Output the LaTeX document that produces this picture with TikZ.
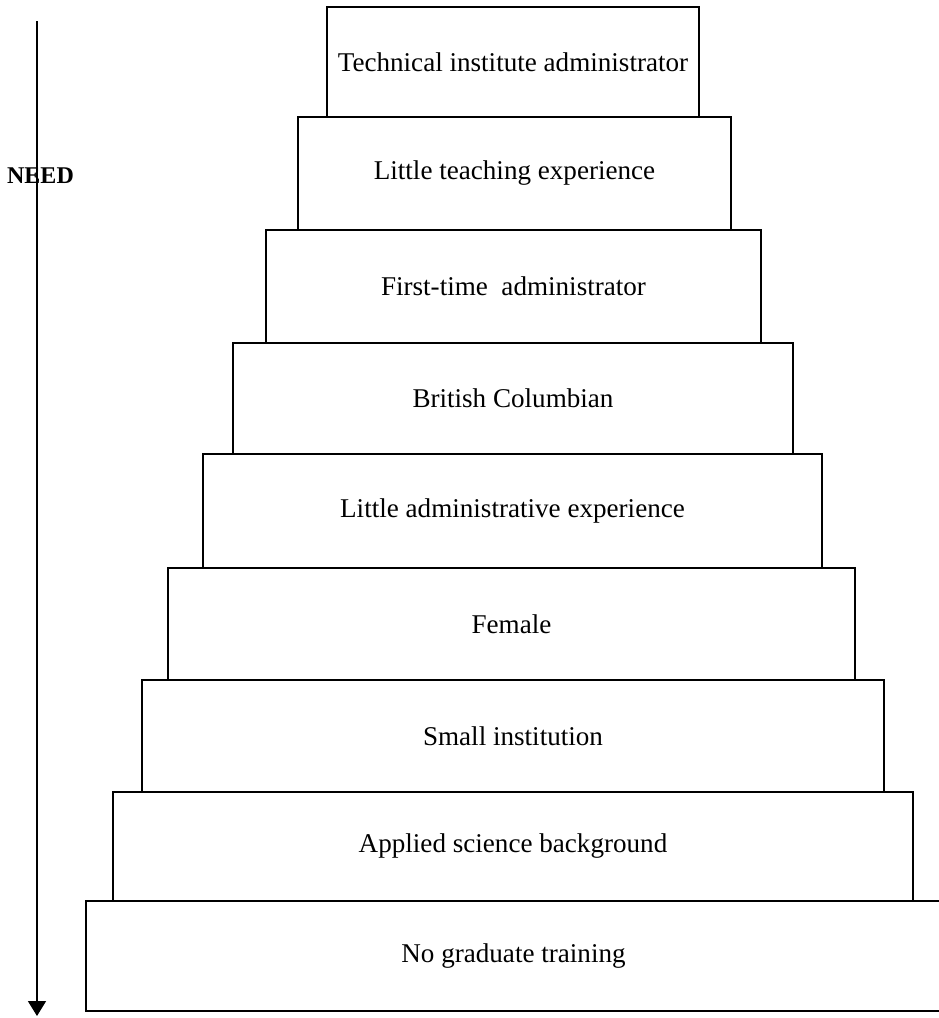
\documentclass[tikz,border=0pt]{standalone}
\usepackage{fontspec}
\setmainfont{Liberation Serif}
\usetikzlibrary{arrows.meta}
\begin{document}
\begin{tikzpicture}[x=1pt,y=-1pt,
  stepbox/.style={draw, line width=1.8pt, inner sep=0pt, outer sep=0pt,
    font=\fontsize{27.1}{32}\selectfont},
  needlabel/.style={inner sep=0pt, font=\fontsize{24}{28}\selectfont\bfseries},
  needarrow/.style={line width=1.6pt, -{Triangle[width=18pt,length=15pt]}}]
\useasboundingbox (0,0) rectangle (939,1018);
\node[stepbox, minimum width=372, minimum height=110] (b1) at (513,62) {Technical institute administrator};
\node[stepbox, minimum width=433, minimum height=113] (b2) at (514.5,173.5) {Little teaching experience};
\node[stepbox, minimum width=495, minimum height=113] (b3) at (513.5,286.5) {First-time\ \ administrator};
\node[stepbox, minimum width=560, minimum height=111] (b4) at (513,398.5) {British Columbian};
\node[stepbox, minimum width=619, minimum height=114] (b5) at (512.5,511) {Little administrative experience};
\node[stepbox, minimum width=687, minimum height=112] (b6) at (511.5,624) {Female};
\node[stepbox, minimum width=742, minimum height=112] (b7) at (513,736) {Small institution};
\node[stepbox, minimum width=800, minimum height=109] (b8) at (513,846.5) {Applied science background};
\node[stepbox, minimum width=855, minimum height=110] (b9) at (513.5,956) {No graduate training};
\node[needlabel] (need) at (40.5,176) {NEED};
\coordinate (atop) at (37,21);
\coordinate (abot) at (37,1016);
\draw[needarrow] (atop) -- (abot);
\end{tikzpicture}
\end{document}
